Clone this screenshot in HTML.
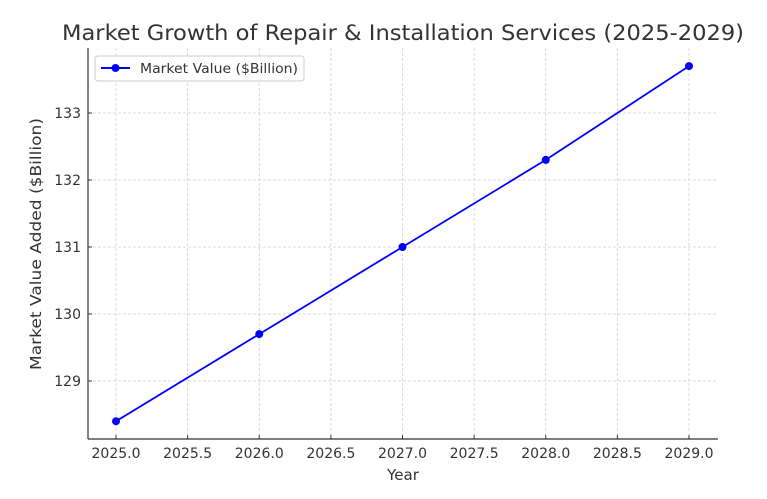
<!DOCTYPE html>
<html><head><meta charset="utf-8"><style>
body{margin:0;background:#fff;}
svg{display:block;font-family:"DejaVu Sans","Liberation Sans",sans-serif;}
</style></head><body>
<svg id="chart" width="767" height="499" viewBox="0 0 767 499">
<text x="403" y="40" text-anchor="middle" font-size="21" fill="#333" textLength="682" lengthAdjust="spacingAndGlyphs">Market Growth of Repair &amp; Installation Services (2025-2029)</text>
<g id="grid"></g>
<g id="axes"></g>
<g id="series"></g>
<text x="403" y="480" text-anchor="middle" font-size="15" fill="#333">Year</text>
<text transform="translate(41,244) rotate(-90)" text-anchor="middle" font-size="15" fill="#333" textLength="252" lengthAdjust="spacingAndGlyphs">Market Value Added ($Billion)</text>
<g>
<rect x="95" y="56" width="209" height="25" rx="3" fill="#fff" stroke="#ccc"/>
<line x1="101" y1="68" x2="130" y2="68" stroke="#0000ff" stroke-width="2"/>
<circle cx="115.5" cy="68" r="4" fill="#0000ff"/>
<text x="140" y="73" font-size="13" fill="#333" textLength="158" lengthAdjust="spacingAndGlyphs">Market Value ($Billion)</text>
</g>
</svg>
<script>
const years=[2025,2026,2027,2028,2029];
const values=[128.4,129.7,131.0,132.3,133.7];
const xTicks=[2025.0,2025.5,2026.0,2026.5,2027.0,2027.5,2028.0,2028.5,2029.0];
const yTicks=[129,130,131,132,133];
const NS="http://www.w3.org/2000/svg";
const L=88,R=718,T=48,B=439;
const xs=v=>116+(v-2025)*143.25;
const ys=v=>381-(v-129)*67;
function mk(tag,attrs,parent){const e=document.createElementNS(NS,tag);for(const k in attrs)e.setAttribute(k,attrs[k]);parent.appendChild(e);return e;}
const grid=document.getElementById('grid'),axes=document.getElementById('axes'),series=document.getElementById('series');
xTicks.forEach(t=>{
 const x=xs(t);
 const g=mk('line',{x1:x,x2:x,y1:T,y2:B,stroke:'#d0d0d0','stroke-dasharray':'3,2','stroke-width':0.8},grid);
 
 
 const tk=mk('line',{x1:x,x2:x,y1:B,y2:B-4,stroke:'#333'},axes);
 
 
 const lb=mk('text',{x:x,y:B+19,'text-anchor':'middle','font-size':14,fill:'#333'},axes);
 lb.textContent=t.toFixed(1);
 
 
});
yTicks.forEach(t=>{
 const y=ys(t);
 const g=mk('line',{x1:L,x2:R,y1:y,y2:y,stroke:'#d0d0d0','stroke-dasharray':'3,2','stroke-width':0.8},grid);
 
 
 const tk=mk('line',{x1:L,x2:L+4,y1:y,y2:y,stroke:'#333'},axes);
 
 
 const lb=mk('text',{x:L-7,y:y+5,'text-anchor':'end','font-size':14,fill:'#333'},axes);
 lb.textContent=t;
 
 
});
const ax1=mk('line',{x1:L,x2:L,y1:T,y2:B,stroke:'#333','stroke-width':1.2},axes);


const ax2=mk('line',{x1:L,x2:R,y1:B,y2:B,stroke:'#333','stroke-width':1.2},axes);


const pl=mk('polyline',{points:years.map((y,i)=>xs(y)+','+ys(values[i])).join(' '),fill:'none',stroke:'#0000ff','stroke-width':1.8},series);


years.forEach((y,i)=>{
 const c=mk('circle',{cx:xs(y),cy:ys(values[i]),r:4,fill:'#0000ff'},series);
 
 
});
</script>
</body></html>
